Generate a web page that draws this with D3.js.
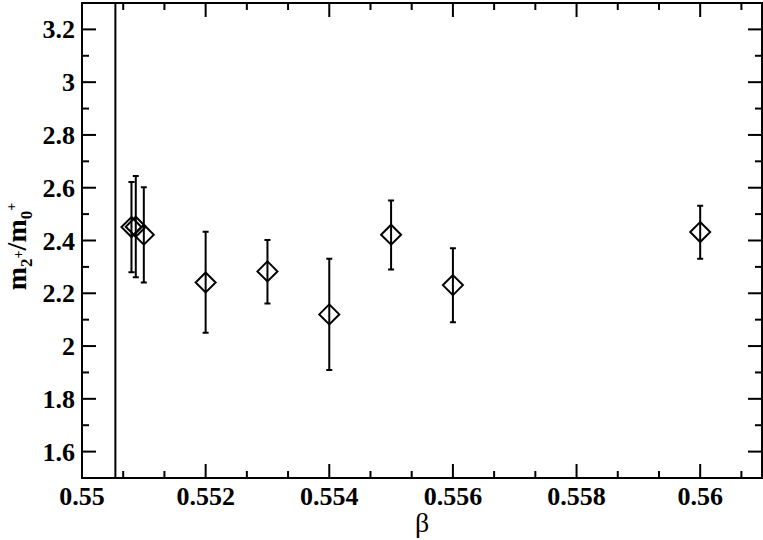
<!DOCTYPE html>
<html><head><meta charset="utf-8">
<script src="https://cdn.jsdelivr.net/npm/d3@7"></script>
<style>
body{margin:0;background:#fff}
svg{display:block}
</style>
</head><body>
<svg id="c" width="763" height="540"></svg>
<script>
const beta   = [0.5508, 0.55087, 0.5510, 0.552, 0.553, 0.554, 0.555, 0.556, 0.560];
const ratio  = [2.451, 2.452, 2.422, 2.241, 2.283, 2.120, 2.422, 2.231, 2.432];
const errLo  = [2.280, 2.261, 2.241, 2.050, 2.161, 1.909, 2.290, 2.090, 2.331];
const errHi  = [2.622, 2.644, 2.602, 2.433, 2.402, 2.331, 2.552, 2.371, 2.532];
const vLineX = 0.55054;
const xTicks = [0.55, 0.552, 0.554, 0.556, 0.558, 0.56];
const xTickLabels = ["0.55", "0.552", "0.554", "0.556", "0.558", "0.56"];
const yTicks = [1.6, 1.8, 2, 2.2, 2.4, 2.6, 2.8, 3, 3.2];
const yTickLabels = ["1.6", "1.8", "2", "2.2", "2.4", "2.6", "2.8", "3", "3.2"];

const FONT = "Liberation Serif, Times New Roman, Times, serif";
const L = 82, R = 762, T = 3, B = 478;
const svg = d3.select("#c");
const x = d3.scaleLinear().domain([0.55, 0.561]).range([L, R]);
const y = d3.scaleLinear().domain([1.5, 3.3]).range([B, T]);

const xMinor = [];
for (let i = 0; i < 17; i++) { const v = 0.55 + i * 0.002 / 3; if (i % 3 !== 0 && v <= 0.561) xMinor.push(v); }
const yMinor = [];
for (let i = 0; i < 19; i++) { const v = 1.5 + i * 0.1; if (i % 2 === 0 && v <= 3.3 + 1e-9) yMinor.push(v); }

// frame
svg.append("rect").attr("x", L).attr("y", T).attr("width", R - L).attr("height", B - T)
  .attr("fill", "none").attr("stroke", "#000").attr("stroke-width", 2);

const tickG = svg.append("g");
function tick(x1, y1, x2, y2) {
  tickG.append("line").attr("x1", x1).attr("y1", y1).attr("x2", x2).attr("y2", y2)
    .attr("stroke", "#000").attr("stroke-width", 2);
}
xTicks.forEach(v => { tick(x(v), B, x(v), B - 14); tick(x(v), T, x(v), T + 14); });
xMinor.forEach(v => { tick(x(v), B, x(v), B - 7); tick(x(v), T, x(v), T + 7); });
yTicks.forEach(v => { tick(L, y(v), L + 14, y(v)); tick(R, y(v), R - 14, y(v)); });
yMinor.forEach(v => { tick(L, y(v), L + 7, y(v)); tick(R, y(v), R - 7, y(v)); });

// tick labels
svg.append("g").selectAll("text").data(xTicks).join("text")
  .attr("x", d => x(d)).attr("y", B + 27)
  .attr("text-anchor", "middle").attr("font-family", FONT)
  .attr("font-weight", "bold").attr("font-size", 26)
  .text((d, i) => xTickLabels[i]);
svg.append("g").selectAll("text").data(yTicks).join("text")
  .attr("x", L - 7).attr("y", d => y(d) + 9)
  .attr("text-anchor", "end").attr("font-family", FONT)
  .attr("font-weight", "bold").attr("font-size", 26)
  .text((d, i) => yTickLabels[i]);

// vertical line
svg.append("line").attr("x1", x(vLineX)).attr("x2", x(vLineX)).attr("y1", T).attr("y2", B)
  .attr("stroke", "#000").attr("stroke-width", 2);

// error bars
const pts = beta.map((b, i) => ({b, v: ratio[i], lo: errLo[i], hi: errHi[i]}));
let ed = "";
pts.forEach(p => {
  const px = x(p.b), lo = y(p.lo), hi = y(p.hi);
  ed += `M${px},${lo}V${hi}M${px - 3},${lo}H${px + 3}M${px - 3},${hi}H${px + 3}`;
});
svg.append("path").attr("d", ed).attr("fill", "none").attr("stroke", "#000").attr("stroke-width", 2);
// diamonds
const s = 10;
svg.append("g").selectAll("path").data(pts).join("path")
  .attr("d", p => `M${x(p.b)},${y(p.v) - s}L${x(p.b) + s},${y(p.v)}L${x(p.b)},${y(p.v) + s}L${x(p.b) - s},${y(p.v)}Z`)
  .attr("fill", "none").attr("stroke", "#000").attr("stroke-width", 2);

// axis titles
svg.append("text").attr("x", 422).attr("y", 532).attr("font-family", FONT)
  .attr("text-anchor", "middle").attr("font-size", 28).text("β");

const yl = svg.append("text").attr("transform", `translate(26,${(T + B) / 2 + 6}) rotate(-90)`)
  .attr("font-family", FONT)
  .attr("text-anchor", "middle").attr("font-weight", "bold").attr("font-size", 28);
yl.append("tspan").text("m");
yl.append("tspan").attr("font-size", 17).attr("dy", 6).text("2");
yl.append("tspan").attr("font-size", 14).attr("dy", -9).text("+");
yl.append("tspan").attr("font-size", 28).attr("dy", 3).text("/m");
yl.append("tspan").attr("font-size", 17).attr("dy", 6).text("0");
yl.append("tspan").attr("font-size", 14).attr("dy", -16).text("+");
</script>
</body></html>
